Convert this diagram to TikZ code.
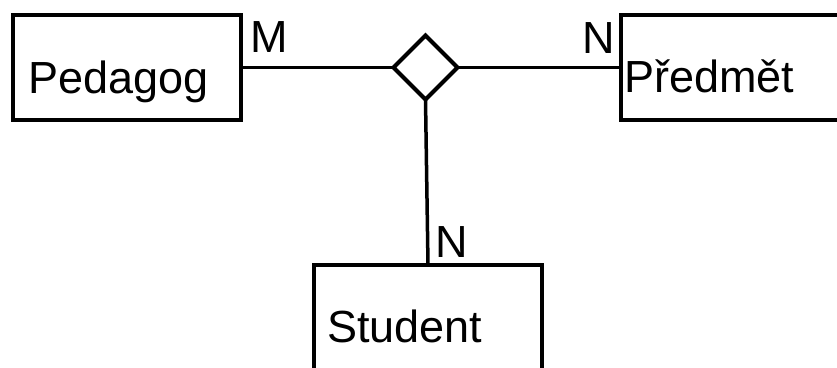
\documentclass[tikz,border=0pt]{standalone}
\usepackage{fontspec}
\setmainfont{Liberation Sans}
\usetikzlibrary{shapes.geometric}
\begin{document}
\begin{tikzpicture}[x=1pt,y=-1pt,
  entity/.style={draw,line width=3.5pt,inner sep=0pt,outer sep=0pt,
    minimum width=228pt,minimum height=105pt},
  relation/.style={draw,diamond,line width=4pt,inner sep=0pt,outer sep=0pt,
    minimum width=64pt,minimum height=64pt},
  label/.style={anchor=base west,inner sep=0pt,font=\fontsize{45}{54}\selectfont},
  link/.style={line width=3pt}]
  \useasboundingbox (0,0) rectangle (837,367);
  \clip (0,0) rectangle (837,367);
  % entity boxes (Předmět and Student run past the edge)
  \node[entity] (ped) at (127,67.5) {};
  \node[entity] (pred) at (735,67.5) {};
  \node[entity] (stud) at (428,317.5) {};
  % relationship
  \node[relation] (rel) at (425.5,67.5) {};
  % entity names
  \node[label] (tped) at (28,93) {Pedagog};
  \node[label] (tpred) at (624,92) {Předmět};
  \node[label] (tstud) at (327,342) {Student};
  % cardinalities
  \node[label] (cm) at (250,52) {M};
  \node[label] (cn1) at (582,53) {N};
  \node[label] (cn2) at (435,257) {N};
  % connectors
  \draw[link,line width=2.5pt] (ped.east) -- (rel.west);
  \draw[link,line width=3.5pt] (rel.east) -- (pred.west);
  \draw[link,line width=3.5pt] (rel.south) -- (stud.north);
\end{tikzpicture}
\end{document}
